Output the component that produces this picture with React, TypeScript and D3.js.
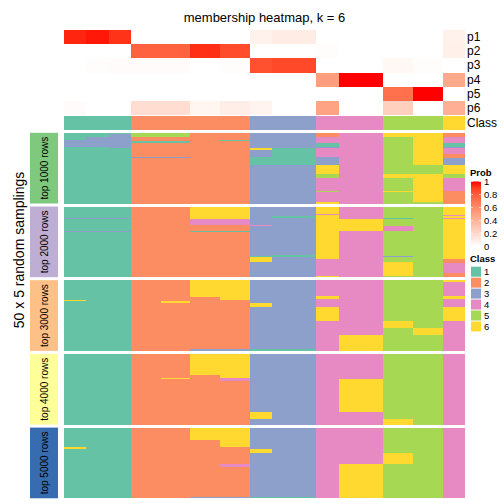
import React from "react";
import * as d3 from "d3";

const title = "membership heatmap, k = 6";
const sideTitle = "50 x 5 random samplings";
// column blocks (samples with identical patterns), left to right
const blockSizes = [3, 3, 3, 4, 4, 4, 4, 3, 6, 3, 6, 4, 4, 3];
const blockClass = [1, 1, 1, 2, 2, 2, 2, 3, 3, 4, 4, 5, 5, 6];
const probRowNames = ["p1", "p2", "p3", "p4", "p5", "p6"];
const p1 = [0.96, 0.98, 0.93, 0, 0, 0, 0, 0.07, 0.1, 0, 0, 0, 0, 0.07];
const p2 = [0, 0, 0, 0.78, 0.78, 0.94, 0.86, 0, 0, 0.01, 0, 0, 0, 0.08];
const p3 = [0, 0.01, 0.02, 0.02, 0.02, 0, 0.01, 0.84, 0.87, 0, 0, 0.04, 0.01, 0];
const p4 = [0, 0, 0, 0, 0, 0, 0, 0, 0, 0.5, 1, 0, 0, 0.45];
const p5 = [0, 0, 0, 0, 0, 0, 0, 0, 0, 0, 0, 0.72, 1, 0];
const p6 = [0.02, 0, 0, 0.18, 0.18, 0.05, 0.09, 0.06, 0, 0.48, 0, 0.25, 0, 0.42];
const groupLabels = ["top 1000 rows", "top 2000 rows", "top 3000 rows", "top 4000 rows", "top 5000 rows"];
const groupColors = ["#7fc97f", "#beaed4", "#fdc086", "#ffff99", "#386cb0"];
const classLabels = ["1", "2", "3", "4", "5", "6"];
const classColors = ["#66c2a5", "#fc8d62", "#8da0cb", "#e78ac3", "#a6d854", "#ffd92f"];
const probTicks = [0, 0.2, 0.4, 0.6, 0.8, 1];
const nSamplings = 50;

// overrides: [block, rowStart, rowEnd, class]
type Ov = [number, number, number, number];
const group1: Ov[] = [
  [0, 5, 9, 3], [1, 3, 9, 3], [2, 1, 10, 3],
  [3, 0, 2, 5], [4, 0, 2, 5], [3, 6, 6, 1], [4, 6, 6, 1], [3, 17, 17, 3], [4, 17, 17, 3],
  [6, 5, 5, 1],
  [7, 11, 11, 6], [7, 17, 22, 1], [8, 11, 22, 1],
  [9, 0, 2, 2], [9, 7, 9, 1], [9, 10, 10, 3], [9, 17, 22, 3], [9, 23, 28, 6], [9, 29, 31, 5], [9, 41, 41, 5], [9, 49, 49, 6],
  [11, 0, 2, 6], [11, 29, 31, 6], [11, 41, 41, 6],
  [12, 0, 22, 6], [12, 29, 48, 6],
  [13, 0, 2, 2], [13, 3, 6, 4], [13, 7, 9, 1], [13, 10, 10, 3], [13, 11, 14, 4], [13, 15, 17, 2], [13, 18, 22, 3],
  [13, 29, 31, 5], [13, 32, 40, 4], [13, 41, 49, 2],
];
const group2: Ov[] = [
  [0, 8, 8, 3], [1, 8, 8, 3], [2, 8, 8, 3], [0, 17, 17, 3], [1, 17, 17, 3], [2, 17, 17, 3],
  [5, 0, 8, 6], [6, 0, 8, 6], [5, 9, 12, 4], [6, 9, 12, 4], [5, 17, 17, 1], [6, 17, 17, 1],
  [7, 13, 13, 4], [7, 35, 35, 1], [7, 36, 38, 6],
  [8, 7, 7, 1], [8, 34, 35, 1],
  [9, 0, 4, 6], [9, 6, 36, 6], [9, 49, 49, 6],
  [10, 9, 16, 6],
  [11, 8, 8, 1], [11, 14, 16, 4], [11, 35, 35, 3], [11, 39, 48, 6],
  [13, 6, 6, 4], [13, 8, 8, 4], [13, 37, 39, 2], [13, 40, 46, 4], [13, 47, 49, 2],
];
const group3: Ov[] = [
  [0, 14, 14, 6], [4, 15, 15, 6],
  [5, 0, 11, 6], [5, 49, 49, 3], [6, 0, 13, 6], [6, 49, 49, 3],
  [7, 16, 18, 6], [7, 49, 49, 1], [8, 49, 49, 1],
  [9, 11, 12, 6], [9, 19, 28, 6],
  [10, 39, 49, 6],
  [11, 29, 33, 6], [12, 34, 38, 6],
  [13, 1, 10, 4], [13, 13, 18, 4], [13, 29, 49, 4],
];
const group4: Ov[] = [
  [4, 17, 17, 6],
  [5, 0, 14, 6], [6, 0, 16, 6], [6, 17, 18, 4],
  [7, 41, 45, 6],
  [10, 18, 40, 6],
  [11, 46, 49, 6],
  [13, 0, 49, 4],
];
const group5: Ov[] = [
  [0, 14, 14, 6],
  [5, 0, 8, 6], [5, 49, 49, 3], [6, 0, 13, 6], [6, 26, 27, 4], [6, 49, 49, 3],
  [7, 15, 17, 6], [7, 49, 49, 1], [8, 49, 49, 1],
  [10, 26, 49, 6],
  [11, 18, 25, 6],
  [13, 0, 49, 4],
];
const groups = [group1, group2, group3, group4, group5];

const FONT = "'Liberation Sans', Arial, Helvetica, sans-serif";

export default function App() {
  // expand blocks to samples
  const sampleBlock: number[] = [];
  blockSizes.forEach((s, b) => { for (let i = 0; i < s; i++) sampleBlock.push(b); });
  const nS = sampleBlock.length;
  const probs = [p1, p2, p3, p4, p5, p6];

  const x = d3.scaleBand<number>().domain(d3.range(nS)).range([64, 465]);
  const yTop = d3.scaleBand<string>().domain(probRowNames).range([30, 115]);
  const classY0 = 115.8, classY1 = 130;
  const probColor = d3.scaleLinear<string>().domain([0, 1]).range(["#ffffff", "#ff0000"]).interpolate(d3.interpolateLab);
  const classColor = d3.scaleOrdinal<number, string>().domain([1, 2, 3, 4, 5, 6]).range(classColors);

  const gH = 70.7, gGap = 3, g0 = 132.8;
  const groupY = (i: number) => g0 + i * (gH + gGap);

  // build matrices
  const mats = groups.map((ovs) => {
    const m: number[][] = d3.range(nSamplings).map(() => sampleBlock.map((b) => blockClass[b]));
    ovs.forEach(([b, r0, r1, c]) => {
      for (let r = r0; r <= r1; r++) for (let s = 0; s < nS; s++) if (sampleBlock[s] === b) m[r][s] = c;
    });
    return m;
  });

  const cells: JSX.Element[] = [];
  mats.forEach((m, gi) => {
    const yr = d3.scaleBand<number>().domain(d3.range(nSamplings)).range([groupY(gi), groupY(gi) + gH]);
    for (let s = 0; s < nS; s++) {
      let r = 0;
      while (r < nSamplings) {
        const c = m[r][s];
        let e = r;
        while (e + 1 < nSamplings && m[e + 1][s] === c) e++;
        const y0 = yr(r)!;
        const y1 = yr(e)! + yr.bandwidth();
        cells.push(
          <rect key={`g${gi}s${s}r${r}`} x={x(s)!} y={y0} width={x.bandwidth() + 0.3} height={y1 - y0}
            fill={classColor(c)} />
        );
        r = e + 1;
      }
    }
  });

  const legendY = d3.scaleLinear().domain([0, 1]).range([246.7, 181.5]);
  const gradStops = d3.range(0, 1.0001, 0.1);

  return (
    <svg width={504} height={504} style={{ position: "absolute", left: 0, top: 0, background: "#fff" }}
      fontFamily={FONT}>
      <defs>
        <linearGradient id="probGrad" x1="0" y1="1" x2="0" y2="0">
          {gradStops.map((t) => (
            <stop key={t} offset={t} stopColor={probColor(t)} />
          ))}
        </linearGradient>
      </defs>
      <text x={264.5} y={22} textAnchor="middle" fontSize={13}>{title}</text>

      {/* probability rows */}
      <g shapeRendering="crispEdges">
        {probs.map((arr, ri) =>
          sampleBlock.map((b, s) => (
            <rect key={`p${ri}-${s}`} x={x(s)!} y={yTop(probRowNames[ri])!} width={x.bandwidth() + 0.3}
              height={yTop.bandwidth() + 0.3} fill={probColor(arr[b])} />
          ))
        )}
        {sampleBlock.map((b, s) => (
          <rect key={`c-${s}`} x={x(s)!} y={classY0} width={x.bandwidth() + 0.3} height={classY1 - classY0}
            fill={classColor(blockClass[b])} />
        ))}
      </g>
      {probRowNames.map((n) => (
        <text key={n} x={467} y={yTop(n)! + yTop.bandwidth() / 2} dominantBaseline="central" fontSize={12}>{n}</text>
      ))}
      <text x={467} y={(classY0 + classY1) / 2} dominantBaseline="central" fontSize={12}>Class</text>

      <g shapeRendering="crispEdges">{cells}</g>

      {/* group labels */}
      {groupLabels.map((g, i) => (
        <g key={g}>
          <rect x={30} y={groupY(i)} width={28} height={gH} fill={groupColors[i]} />
          <text transform={`translate(44.5,${groupY(i) + gH / 2}) rotate(-90)`} textAnchor="middle"
            dominantBaseline="central" fontSize={10}>{g}</text>
        </g>
      ))}
      <text transform={`translate(19,250) rotate(-90)`} textAnchor="middle" dominantBaseline="central"
        fontSize={14}>{sideTitle}</text>

      {/* Prob legend */}
      <text x={470} y={175.5} fontSize={9.5} fontWeight="bold">Prob</text>
      <rect x={471} y={181.5} width={10} height={65.2} fill="url(#probGrad)" />
      {probTicks.map((t) => (
        <g key={t}>
          <line x1={471} x2={473} y1={legendY(t)} y2={legendY(t)} stroke="#ffffff" strokeWidth={0.6} />
          <line x1={479} x2={481} y1={legendY(t)} y2={legendY(t)} stroke="#ffffff" strokeWidth={0.6} />
          <text x={484} y={legendY(t)} dominantBaseline="central" fontSize={9.5}>{String(t)}</text>
        </g>
      ))}

      {/* Class legend */}
      <text x={470} y={262} fontSize={9.5} fontWeight="bold">Class</text>
      {classLabels.map((c, i) => (
        <g key={c}>
          <rect x={471} y={266.7 + i * 10.95} width={10} height={10} fill={classColors[i]} />
          <text x={484} y={266.7 + i * 10.95 + 5} dominantBaseline="central" fontSize={9.5}>{c}</text>
        </g>
      ))}
    </svg>
  );
}
